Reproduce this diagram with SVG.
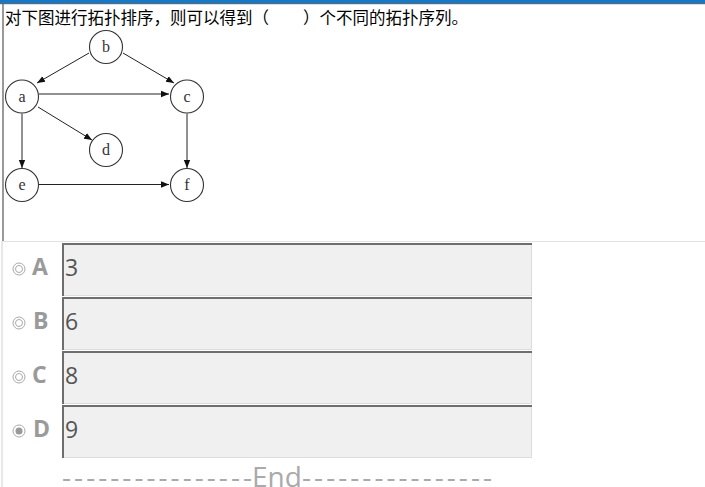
<svg xmlns="http://www.w3.org/2000/svg" width="705" height="487" viewBox="0 0 705 487">
<defs>
<marker id="ah" markerWidth="9" markerHeight="8" refX="8" refY="4" orient="auto" markerUnits="userSpaceOnUse">
<path d="M0,0.8 L8,4 L0,7.2 Z" fill="#111"/>
</marker>
<style>
.node circle{fill:#fff;stroke:#333;stroke-width:1.1}
.node text{font-family:"Liberation Serif",serif;font-size:16px;fill:#333;text-anchor:middle}
.edge{stroke:#222;stroke-width:1;fill:none;marker-end:url(#ah)}
.box{fill:#f0f0f0;stroke:#dcdcdc;stroke-width:1}
.boxedge{stroke:#6e6e6e;stroke-width:2;fill:none}
.letter{font-family:"Open Sans","Liberation Sans",sans-serif;font-weight:bold;font-size:23px;fill:#9a9a9a}
.val{font-family:"Open Sans","Liberation Sans",sans-serif;font-size:23px;fill:#555}
.radio{fill:none;stroke:#aaa;stroke-width:1}
</style>
</defs>
<rect x="0" y="0" width="705" height="487" fill="#fff"/>
<rect x="0" y="0" width="705" height="3" fill="#0e7bd0"/>
<rect x="0" y="3" width="705" height="1.2" fill="#666"/>
<line x1="3" y1="4" x2="3" y2="241" stroke="#555" stroke-width="1.2"/>
<line x1="3" y1="241.5" x2="705" y2="241.5" stroke="#e3e3e3" stroke-width="1"/>
<line x1="2" y1="241" x2="2" y2="487" stroke="#d0d0d0" stroke-width="1"/>
<text x="5" y="24" font-family="'Noto Sans CJK SC',sans-serif" font-size="16.5" fill="#000">对下图进行拓扑排序，则可以得到（<tspan x="303">）个不同的拓扑序列。</tspan></text>
<g id="connectors">
<line class="edge" x1="89" y1="53" x2="37" y2="83"/>
<line class="edge" x1="123" y1="53" x2="174" y2="83"/>
<line class="edge" x1="39" y1="94" x2="169" y2="94"/>
<line class="edge" x1="38" y1="107" x2="92" y2="140"/>
<line class="edge" x1="22" y1="113.5" x2="22" y2="168"/>
<line class="edge" x1="187" y1="113.5" x2="187" y2="168"/>
<line class="edge" x1="39" y1="184.5" x2="169" y2="184.5"/>
</g>
<g id="node-b" class="node"><circle cx="106" cy="47" r="16.5"/><text x="106" y="52">b</text></g>
<g id="node-a" class="node"><circle cx="22" cy="96.5" r="16.5"/><text x="22" y="101.5">a</text></g>
<g id="node-c" class="node"><circle cx="187" cy="96.5" r="16.5"/><text x="187" y="101.5">c</text></g>
<g id="node-d" class="node"><circle cx="106" cy="150" r="16.5"/><text x="106" y="155">d</text></g>
<g id="node-e" class="node"><circle cx="22" cy="185" r="16.5"/><text x="22" y="190">e</text></g>
<g id="node-f" class="node"><circle cx="187" cy="185" r="16.5"/><text x="187" y="190">f</text></g>
<g id="option-A">
<circle class="radio" cx="19" cy="269" r="6"/><circle class="radio" cx="19" cy="269" r="3.5"/>
<text class="letter" x="32" y="275">A</text>
<rect class="box" x="62.5" y="243.5" width="469" height="52"/>
<path class="boxedge" d="M63,296 V244 H532"/>
<text class="val" x="65" y="276">3</text>
</g>
<g id="option-B">
<circle class="radio" cx="19" cy="323" r="6"/><circle class="radio" cx="19" cy="323" r="3.5"/>
<text class="letter" x="33" y="329">B</text>
<rect class="box" x="62.5" y="297.5" width="469" height="52"/>
<path class="boxedge" d="M63,350 V298 H532"/>
<text class="val" x="65" y="330">6</text>
</g>
<g id="option-C">
<circle class="radio" cx="19" cy="377" r="6"/><circle class="radio" cx="19" cy="377" r="3.5"/>
<text class="letter" x="32" y="383">C</text>
<rect class="box" x="62.5" y="351.5" width="469" height="52"/>
<path class="boxedge" d="M63,404 V352 H532"/>
<text class="val" x="65" y="384">8</text>
</g>
<g id="option-D">
<circle class="radio" cx="19" cy="431" r="6"/><circle cx="19" cy="431" r="3.5" fill="#999"/>
<text class="letter" x="33" y="437">D</text>
<rect class="box" x="62.5" y="405.5" width="469" height="52"/>
<path class="boxedge" d="M63,458 V406 H532"/>
<text class="val" x="65" y="438">9</text>
</g>
<text y="487" font-family="'Open Sans','Liberation Sans',sans-serif" font-size="28" fill="#aaa"><tspan x="62" textLength="190" lengthAdjust="spacing">----------------</tspan><tspan x="252">End</tspan><tspan x="302" textLength="190" lengthAdjust="spacing">----------------</tspan></text>
</svg>
